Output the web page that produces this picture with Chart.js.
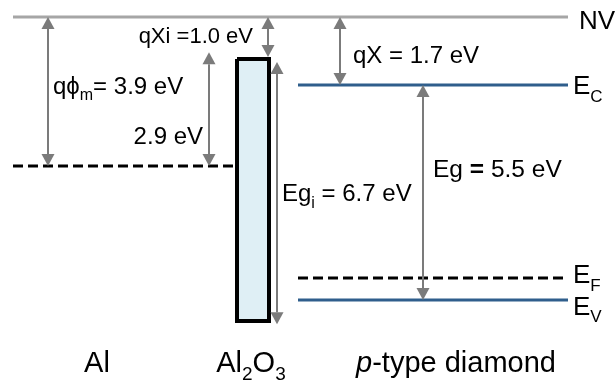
<!DOCTYPE html>
<html>
<head>
<meta charset="utf-8">
<script src="https://cdn.jsdelivr.net/npm/chart.js@4"></script>
<style>
  html, body { margin: 0; padding: 0; background: #fff; }
  #wrap { width: 615px; height: 383px; }
</style>
</head>
<body>
<div id="wrap"><canvas id="band" width="615" height="383"></canvas></div>
<script>
// energy levels in eV (vacuum level = 0)
const vacuumLevel = 0;
const alFermi = -3.9;
const oxideCB = -1.10;
const oxideVB = -7.96;
const diamondEC = -1.78;
const diamondEF = -6.83;
const diamondEV = -7.41;

// horizontal extents of each region
const metalSpan = [13, 233];
const oxideSpan = [237, 269];
const diamondSpan = [298, 568];
const vacuumSpan = [13, 568];

// arrows: x, from, to
const arrowX = [48, 268, 209, 277, 340, 423];
const arrowFrom = [vacuumLevel, vacuumLevel, -0.92, -1.18, vacuumLevel, diamondEC];
const arrowTo = [alFermi, -1.05, alFermi, -8.04, diamondEC, diamondEV];

// region names under the diagram
const regionNames = ['Al', 'Al2O3', 'p-type diamond'];

const FAM = '"Liberation Sans", Arial, sans-serif';

function hline(span, y) {
  return [{ x: span[0], y: y }, { x: span[1], y: y }];
}

// text pieces: [text, sub?, italic?, bold?]
const labels = [
  { x: 253, y: -0.47, align: 'right', size: 22, parts: [['qXi =1.0 eV']] },
  { x: 53, y: -1.78, align: 'left', size: 24, parts: [['qϕ'], ['m', 1], ['= 3.9 eV']] },
  { x: 203, y: -3.09, align: 'right', size: 24, parts: [['2.9 eV']] },
  { x: 353, y: -0.99, align: 'left', size: 24, parts: [['qX = 1.7 eV']] },
  { x: 433, y: -3.95, align: 'left', size: 24.5, parts: [['Eg '], ['=', 0, 0, 1], [' 5.5 eV']] },
  { x: 282, y: -4.6, align: 'left', size: 24, parts: [['Eg'], ['i', 1], [' = 6.7 eV']] },
  { x: 579, y: -0.08, align: 'left', size: 26, parts: [['NV']] },
  { x: 573, y: -1.78, align: 'left', size: 26, parts: [['E'], ['C', 1]] },
  { x: 573, y: -6.73, align: 'left', size: 26, parts: [['E'], ['F', 1]] },
  { x: 573, y: -7.56, align: 'left', size: 26, parts: [['E'], ['V', 1]] },
  { x: 97, y: -9.03, align: 'center', size: 29, parts: [[regionNames[0]]] },
  { x: 251, y: -9.03, align: 'center', size: 29, parts: [['Al'], ['2', 1], ['O'], ['3', 1]] },
  { x: 456, y: -9.03, align: 'center', size: 29, parts: [['p', 0, 1], ['-type diamond']] }
];

function partFont(p, size) {
  const s = p[1] ? Math.round(size * 0.66) : size;
  return (p[2] ? 'italic ' : '') + (p[3] ? 'bold ' : '') + s + 'px ' + FAM;
}

const bandPlugin = {
  id: 'bandDiagram',
  afterDatasetsDraw(chart) {
    const ctx = chart.ctx;
    const xs = chart.scales.x, ys = chart.scales.y;
    ctx.save();
    // arrows
    ctx.strokeStyle = '#7b7b7b';
    ctx.fillStyle = '#7b7b7b';
    ctx.lineWidth = 2;
    const headLen = 12, headHalf = 6.5;
    for (let i = 0; i < arrowX.length; i++) {
      const px = xs.getPixelForValue(arrowX[i]);
      const y1 = ys.getPixelForValue(arrowFrom[i]);
      const y2 = ys.getPixelForValue(arrowTo[i]);
      const dir = y2 > y1 ? 1 : -1;
      ctx.beginPath();
      ctx.moveTo(px, y1 + dir * headLen);
      ctx.lineTo(px, y2 - dir * headLen);
      ctx.stroke();
      [[y1, -dir], [y2, dir]].forEach(([tip, d]) => {
        ctx.beginPath();
        ctx.moveTo(px, tip);
        ctx.lineTo(px - headHalf, tip - d * headLen);
        ctx.lineTo(px + headHalf, tip - d * headLen);
        ctx.closePath();
        ctx.fill();
      });
    }
    // labels
    ctx.fillStyle = '#000';
    ctx.textBaseline = 'alphabetic';
    ctx.textAlign = 'left';
    labels.forEach(l => {
      let w = 0;
      l.parts.forEach(p => { ctx.font = partFont(p, l.size); w += ctx.measureText(p[0]).width; });
      let x = xs.getPixelForValue(l.x);
      if (l.align === 'right') x -= w;
      if (l.align === 'center') x -= w / 2;
      const base = ys.getPixelForValue(l.y) + l.size * 0.358;
      l.parts.forEach(p => {
        ctx.font = partFont(p, l.size);
        ctx.fillText(p[0], x, base + (p[1] ? l.size * 0.28 : 0));
        x += ctx.measureText(p[0]).width;
      });
    });
    ctx.restore();
  }
};

const line = (data, color, dash) => ({
  data: data,
  showLine: true,
  borderColor: color,
  borderWidth: 3,
  borderDash: dash || [],
  pointRadius: 0,
  fill: false
});

new Chart(document.getElementById('band'), {
  type: 'scatter',
  data: {
    datasets: [
      line(hline(vacuumSpan, vacuumLevel), '#a6a6a6'),
      line(hline(metalSpan, alFermi), '#000', [10, 5]),
      line(hline(diamondSpan, diamondEC), '#2f5e8c'),
      line(hline(diamondSpan, diamondEF), '#000', [10, 5]),
      line(hline(diamondSpan, diamondEV), '#2f5e8c'),
      {
        // Al2O3 band gap box
        data: [
          { x: oxideSpan[0], y: oxideCB }, { x: oxideSpan[1], y: oxideCB },
          { x: oxideSpan[1], y: oxideVB }, { x: oxideSpan[0], y: oxideVB },
          { x: oxideSpan[0], y: oxideCB }
        ],
        showLine: true,
        borderColor: '#000',
        borderWidth: 4,
        borderJoinStyle: 'miter',
        backgroundColor: '#dfeff5',
        pointRadius: 0,
        fill: 'shape'
      }
    ]
  },
  options: {
    responsive: false,
    animation: false,
    layout: { padding: 0 },
    plugins: { legend: { display: false }, tooltip: { enabled: false } },
    scales: {
      x: { type: 'linear', display: false, min: 0, max: 615 },
      y: { type: 'linear', display: false, min: -9.58, max: 0.445 }
    }
  },
  plugins: [bandPlugin]
});
</script>
</body>
</html>
